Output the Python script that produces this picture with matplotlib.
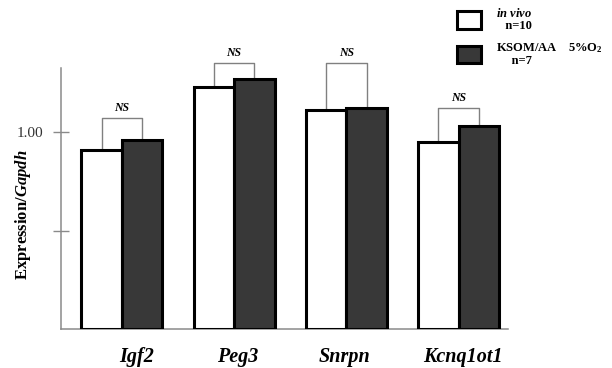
import matplotlib
matplotlib.use('Agg')
import matplotlib.pyplot as plt
import numpy as np

genes = ['Igf2', 'Peg3', 'Snrpn', 'Kcnq1ot1']
in_vivo = [0.91, 1.23, 1.11, 0.95]
ksom = [0.96, 1.27, 1.12, 1.03]
bracket_top = [1.07, 1.35, 1.35, 1.12]
sig_labels = ['NS', 'NS', 'NS', 'NS']
ytick_vals = [0.5, 1.0]
ytick_labels = ['', '1.00']

plt.rcParams['font.family'] = ['Liberation Serif', 'DejaVu Serif']
plt.rcParams['mathtext.fontset'] = 'custom'
plt.rcParams['mathtext.rm'] = 'Liberation Serif:bold'
plt.rcParams['mathtext.it'] = 'Liberation Serif:italic:bold'
plt.rcParams['mathtext.bf'] = 'Liberation Serif:bold'

W, H = 612, 368
fig = plt.figure(figsize=(W / 100, H / 100), dpi=100)
ax = fig.add_axes([61 / W, 1 - 329 / H, 447 / W, 261 / H])

x = np.arange(len(genes))
bw = 0.36
dark = '#383838'
b1 = ax.bar(x - bw / 2, in_vivo, bw, color='white', edgecolor='black',
            linewidth=2.2, zorder=3)
b2 = ax.bar(x + bw / 2, ksom, bw, color=dark, edgecolor='black',
            linewidth=2.2, zorder=3)

# significance brackets
for i in range(len(genes)):
    xl, xr = x[i] - bw / 2, x[i] + bw / 2
    ax.plot([xl, xl, xr, xr], [in_vivo[i], bracket_top[i], bracket_top[i], ksom[i]],
            color='#808080', lw=1.0, clip_on=False, zorder=2)
    ax.text(x[i], bracket_top[i] + 0.02, sig_labels[i], ha='center', va='bottom',
            fontsize=8.5, fontweight='bold', fontstyle='italic', clip_on=False)

ax.set_xlim(-0.541, 3.439)
ax.set_ylim(0, 1.325)

for s in ['top', 'right']:
    ax.spines[s].set_visible(False)
for s in ['left', 'bottom']:
    ax.spines[s].set_color('#8a8a8a')
    ax.spines[s].set_linewidth(1.1)

ax.set_yticks(ytick_vals)
ax.set_yticklabels(ytick_labels, fontsize=11, color='#333333')
ax.tick_params(axis='y', direction='inout', length=11, width=1.0,
               color='#8a8a8a', pad=7)

label_shift = [0.13, 0.03, -0.02, 0.04]
ax.set_xticks(x + np.array(label_shift))
ax.set_xticklabels(genes, fontsize=14.5, fontweight='bold', fontstyle='italic')
ax.tick_params(axis='x', length=0, pad=13)

ax.set_ylabel(r'Expression/$Gapdh$', fontsize=12, fontweight='bold')
ax.yaxis.set_label_coords(-0.063, 0.437)

lab1 = r'$in\ vivo$' + '\n   n=10'
lab2 = 'KSOM/AA    5%O$_2$\n     n=7'
leg = fig.legend([b1, b2], [lab1, lab2], loc='upper left',
                 bbox_to_anchor=(457 / W, 1 - 7 / H), frameon=False,
                 fontsize=9, handlelength=1.9, handleheight=1.75,
                 handletextpad=1.2, labelspacing=0.75, borderpad=0,
                 borderaxespad=0)
for t in leg.get_texts():
    t.set_linespacing(1.0)
    t.set_fontweight('bold')

fig.savefig('out.png', dpi=100)
